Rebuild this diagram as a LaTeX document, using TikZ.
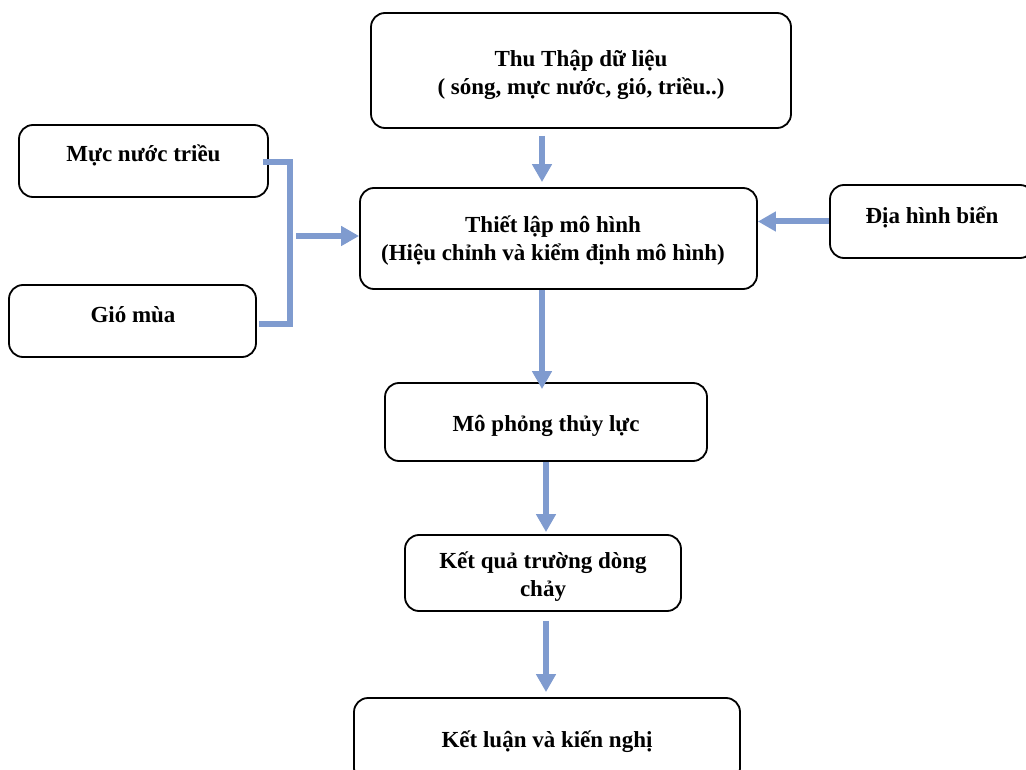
\documentclass[tikz,border=0pt]{standalone}
\usepackage{fontspec}
\setmainfont{Liberation Serif}
\usetikzlibrary{arrows.meta}
\definecolor{arr}{RGB}{127,155,207}
\begin{document}
\begin{tikzpicture}[x=1pt,y=-1pt,
 box/.style={draw=black, line width=1.8pt, rounded corners=14pt, inner sep=0pt},
 txt/.style={font=\bfseries\fontsize{23}{28}\selectfont, align=center, inner sep=0pt},
 flow/.style={draw=arr, line width=6pt, -{Triangle[width=19pt,length=18pt]}},
 bar/.style={draw=arr, line width=6pt, line join=miter}]
\useasboundingbox (0,0) rectangle (1026,770);
% boxes
\node[box, minimum width=420pt, minimum height=115pt] (a) at (581,70.5) {};
\node[box, minimum width=249pt, minimum height=72pt] (m) at (143.5,161) {};
\node[box, minimum width=247pt, minimum height=72pt] (g) at (132.5,321) {};
\node[box, minimum width=397pt, minimum height=101pt] (t) at (558.5,238.5) {};
\node[box, minimum width=204pt, minimum height=73pt] (d) at (932,221.5) {};
\node[box, minimum width=322pt, minimum height=78pt] (p) at (546,422) {};
\node[box, minimum width=276pt, minimum height=76pt] (k) at (543,573) {};
\node[box, minimum width=386pt, minimum height=84pt] (l) at (547,740) {};
% texts
\node[txt] (a-t) at (581,75) {Thu Thập dữ liệu\\( sóng, mực nước, gió, triều..)};
\node[txt] (m-t) at (143.5,155) {Mực nước triều};
\node[txt] (g-t) at (133,315) {Gió mùa};
\node[txt] (t-t) at (553,241) {Thiết lập mô hình\\(Hiệu chỉnh và kiểm định mô hình)};
\node[txt] (d-t) at (932,217) {Địa hình biển};
\node[txt] (p-t) at (546,426) {Mô phỏng thủy lực};
\node[txt] (k-t) at (543,577) {Kết quả trường dòng\\chảy};
\node[txt] (l-t) at (547,742) {Kết luận và kiến nghị};
% connectors
\coordinate (j) at (290,236);
\draw[flow] ([xshift=-39pt,yshift=-7pt]a.south) -- ([xshift=-16.5pt,yshift=5pt]t.north);
\draw[bar] ([xshift=-6pt,yshift=-1pt]m.east) -| (j) |- ([xshift=2pt,yshift=-3pt]g.east);
\draw[flow] ([xshift=6pt]j) -- (t.west |- j);
\draw[flow] (d.west) -- (t.east |- d.west);
\draw[flow] ([xshift=-16.5pt]t.south) -- ([xshift=-4pt,yshift=-7pt]p.north);
\draw[flow] (p.south) -- ([xshift=3pt,yshift=2pt]k.north);
\draw[flow] ([xshift=3pt,yshift=-9pt]k.south) -- ([xshift=-1pt,yshift=5pt]l.north);
\end{tikzpicture}
\end{document}
